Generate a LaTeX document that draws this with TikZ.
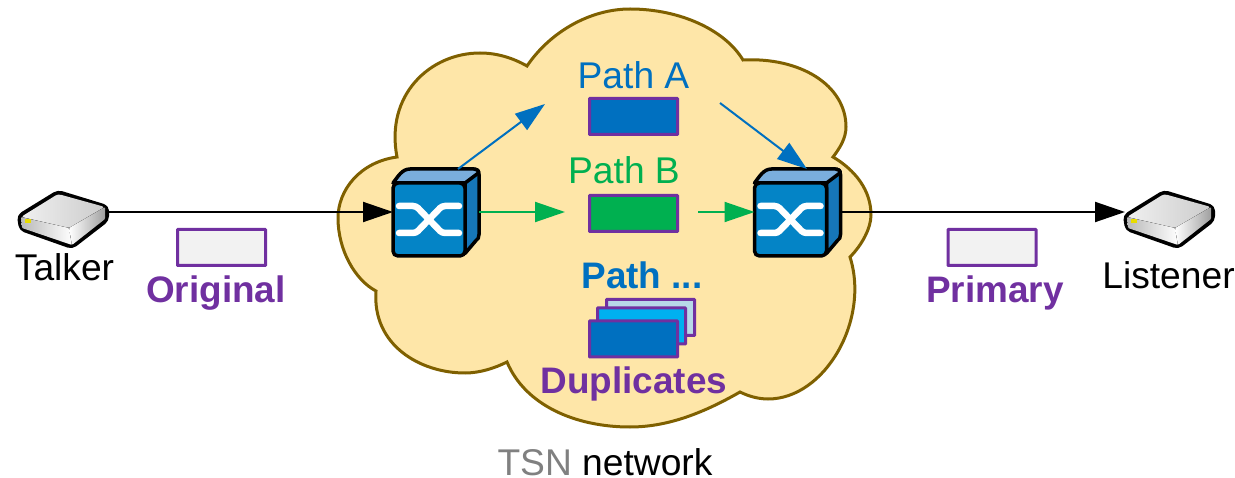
\documentclass[tikz,border=0pt]{standalone}
\usepackage{fontspec}
\setmainfont{Liberation Sans}
\usetikzlibrary{arrows.meta, positioning}

\definecolor{framepurple}{HTML}{7030A0}
\definecolor{pathblue}{HTML}{0070C0}
\definecolor{pathgreen}{HTML}{00B050}
\definecolor{pathsky}{HTML}{00B0F0}
\definecolor{pathpale}{HTML}{B7D8E8}
\definecolor{cloudfill}{HTML}{FEE6A8}
\definecolor{cloudline}{HTML}{7F6000}
\definecolor{switchfront}{HTML}{0484C6}
\definecolor{switchside}{HTML}{1676B8}
\definecolor{switchtop}{HTML}{7AAEDD}

\tikzset{
    label36/.style={anchor=base,inner sep=0pt,font=\fontsize{37.2}{40}\selectfont},
    labelbold/.style={label36,font=\fontsize{36.9}{40}\selectfont\bfseries},
    framebox/.style={draw=framepurple,line width=3pt,rounded corners=0.5pt,inner sep=0pt,
        minimum width=88pt,minimum height=36pt},
    linkarrow/.style={line width=2pt,-{Triangle[length=30pt,width=20pt]}},
    bluearrow/.style={line width=2pt,draw=pathblue,-{Triangle[length=30pt,width=20pt,fill=pathblue]}},
    pics/tsnhost/.style={code={
        \draw[line width=4pt,line join=round,rounded corners=4pt,fill=gray!60]
            (-44,-3) -- (-5,-27) -- (44,-12) -- (44,1) -- (9,28) -- (-42,10) -- cycle;
        \fill[left color=gray!12,right color=gray!40,rounded corners=3pt]
            (-42,-2) -- (-5,-25) -- (42,-12) -- (6,9) -- cycle;
        \fill[left color=gray!55,right color=white,rounded corners=1pt]
            (-42,-2) -- (6,9) -- (9,26) -- (-41,9) -- cycle;
        \fill[left color=white,right color=gray!75,rounded corners=1pt]
            (6,9) -- (42,-12) -- (42,0) -- (9,26) -- cycle;
        \fill[yellow!80!olive] (-38,0) rectangle (-32,4);
        \coordinate (-lft) at (-44,-7);
        \coordinate (-rgt) at (44,-7);
    }},
    pics/tsnswitch/.style={code={
        \draw[line width=3.5pt,line join=round,fill=switchside]
            (36,-36.5) -- (46,-50.5) .. controls (49,-50.5) and (50,-48) .. (50,-45)
            -- (50,15) .. controls (50,18) and (49,20) .. (47,21) -- (36,34) -- cycle;
        \draw[line width=3.5pt,line join=round,fill=switchtop]
            (-36,-36.5) .. controls (-31,-43) and (-27,-50.5) .. (-19,-50.5)
            -- (45,-50.5) .. controls (48,-50.5) and (49,-49) .. (50,-47) -- (36,-36.5) -- cycle;
        \node[draw,line width=3.5pt,fill=switchfront,rounded corners=5pt,inner sep=0pt,
            minimum width=72pt,minimum height=73pt] (-front) at (0,0) {};
        \draw[white,line width=6.5pt,line cap=round,rounded corners=3pt]
            (-30,-13.5) -- (-13,-13.5) -- (13,13.5) -- (30,13.5);
        \draw[white,line width=6.5pt,line cap=round,rounded corners=3pt]
            (-30,13.5) -- (-13,13.5) -- (13,-13.5) -- (30,-13.5);
        \coordinate (-lft) at (-36,-7.5);
        \coordinate (-rgt) at (50,-7.5);
        \coordinate (-topl) at (29,-50.5);
        \coordinate (-topr) at (16.5,-50.5);
    }},
}

\begin{document}
\begin{tikzpicture}[x=1pt,y=-1pt]
    \useasboundingbox (0,0) rectangle (1235,478);

    % network cloud
    \draw[line width=3pt,line join=miter,draw=cloudline,fill=cloudfill]
        (397,157) .. controls (385,95) and (430,53) .. (480,53)
        .. controls (497,53) and (513,58) .. (527,66)
        .. controls (550,32) and (590,9) .. (630,9)
        .. controls (680,9) and (725,30) .. (743,60)
        .. controls (800,57) and (846,85) .. (846,127)
        .. controls (846,138) and (840,148) .. (833,157)
        .. controls (855,170) and (871,190) .. (871,215)
        .. controls (871,228) and (862,245) .. (850,257)
        .. controls (870,320) and (825,399) .. (768,399)
        .. controls (758,399) and (748,396) .. (740,392)
        .. controls (700,415) and (665,427) .. (630,427)
        .. controls (575,427) and (525,405) .. (507,362)
        .. controls (495,368) and (480,373) .. (465,373)
        .. controls (420,373) and (372,345) .. (376,291)
        .. controls (355,280) and (338,250) .. (338,218)
        .. controls (338,190) and (360,162) .. (397,157) -- cycle;

    % end stations and switches
    \pic (talker) at (63,219) {tsnhost};
    \pic (listener) at (1169,219) {tsnhost};
    \pic (swa) at (429,219.5) {tsnswitch};
    \pic (swb) at (790.5,219.5) {tsnswitch};

    % frames
    \node[framebox,fill=black!5] (orig) at (221.5,247.5) {};
    \node[framebox,fill=black!5] (prim) at (992,247.5) {};
    \node[framebox,fill=pathblue] (frmA) at (633.5,116.5) {};
    \node[framebox,fill=pathgreen] (frmB) at (633.5,213.5) {};
    \node[framebox,fill=pathpale] (dupc) at (650.5,317.5) {};
    \node[framebox,fill=pathsky] (dupb) at (641.5,326) {};
    \node[framebox,fill=pathblue] (dupa) at (633.5,339) {};

    % labels
    \node[label36] (ltalker) at (64.5,281) {Talker};
    \node[label36] (llistener) at (1168.5,289) {Listener};
    \node[labelbold,text=framepurple] (lorig) at (216,303) {Original};
    \node[labelbold,text=framepurple] (lprim) at (995,303) {Primary};
    \node[label36,text=pathblue] (lpatha) at (633.5,89) {Path A};
    \node[label36,text=pathgreen] (lpathb) at (624,184) {Path B};
    \node[labelbold,text=pathblue] (lpathc) at (642,289) {Path ...};
    \node[labelbold,text=framepurple] (ldupl) at (634,394) {Duplicates};
    \node[label36] (lnet) at (605,475) {\textcolor{gray}{TSN} network};

    % connectors
    \coordinate (tipA) at (545,104);
    \coordinate (startA) at (720,103);
    \draw[linkarrow] (talker-rgt) -- (swa-lft);
    \draw[linkarrow] (swb-rgt) -- (listener-lft);
    \draw[bluearrow] (swa-topl) -- (tipA);
    \draw[bluearrow] (startA) -- (swb-topr);
    \draw[linkarrow,draw=pathgreen,shorten >=23pt] (swa-rgt) -- (swa-rgt -| frmB.west);
    \draw[linkarrow,draw=pathgreen,shorten <=19pt] (swa-rgt -| frmB.east) -- (swb-lft);
\end{tikzpicture}
\end{document}
